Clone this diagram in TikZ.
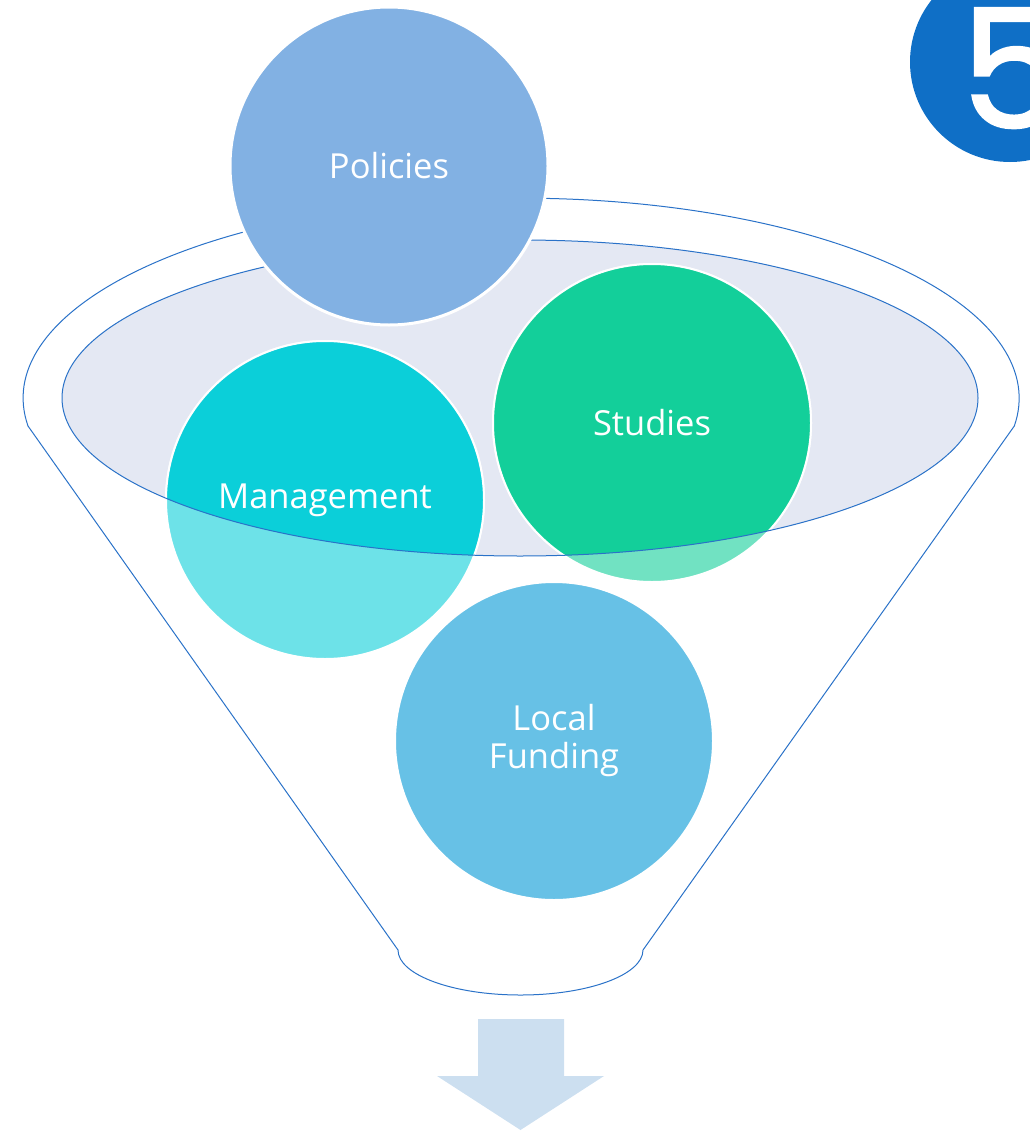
\documentclass[tikz,border=0pt]{standalone}
\usepackage{fontspec}
\setmainfont{Open Sans}
\newfontfamily\badgefont[FakeBold=1.2]{Poppins}
\definecolor{funline}{HTML}{2A72C8}
\definecolor{lavender}{HTML}{E4E8F3}
\definecolor{polc}{HTML}{82B1E3}
\definecolor{mgmt}{HTML}{0BCFD9}
\definecolor{stud}{HTML}{13CF9A}
\definecolor{lfund}{HTML}{67C1E6}
\definecolor{badge}{HTML}{0F6FC6}
\definecolor{arrowc}{HTML}{CCDFF0}
\begin{document}
\begin{tikzpicture}[x=1pt,y=-1pt,
  outl/.style={draw=funline,line width=1pt},
  ball/.style={circle,minimum size=318pt,inner sep=0pt,draw=white,line width=2pt},
  lbl/.style={text=white,font=\fontsize{34.5}{38}\selectfont,align=center}]
\useasboundingbox (0,0) rectangle (1030,1132);
\begin{scope}
\clip (0,0) rectangle (1030,1132);
% outer funnel
\draw[outl] (28,426) arc[start angle=188,end angle=-8,x radius=498pt,y radius=200pt]
  -- (643,950) arc[start angle=360,end angle=180,x radius=122.5pt,y radius=45pt] -- cycle;
% inner ellipse fill
\fill[lavender] (520,398) ellipse[x radius=458pt,y radius=158pt];
% local funding
\node[ball,fill=lfund] (lf) at (554,741) {};
% management & studies, light outside part
\node[ball,fill=mgmt,fill opacity=0.6] (mg) at (325,500) {};
\node[ball,fill=stud,fill opacity=0.6] (st) at (652,423) {};
\begin{scope}
\clip (520,398) ellipse[x radius=458pt,y radius=158pt];
\node[ball,fill=mgmt] at (mg) {};
\node[ball,fill=stud] at (st) {};
\end{scope}
% inner ellipse outline
\draw[outl] (520,398) ellipse[x radius=458pt,y radius=158pt];
% policies
\node[ball,fill=polc,line width=3pt] (po) at (389,166) {};
% labels
\node[lbl] at (po) {Policies};
\node[lbl] at (mg) {Management};
\node[lbl] at (st) {Studies};
\node[lbl] at (lf) {Local\\Funding};
% badge
\node[circle,fill=badge,minimum size=200pt,inner sep=0pt] (bd) at (1010,62) {};
\node[text=white,font=\badgefont\fontsize{166}{166}\selectfont,inner sep=0pt,anchor=base west] (five) at (960,128) {5};
% arrow
\fill[arrowc] (478,1019) -- (564,1019) -- (564,1076) -- (604,1076) -- (520.5,1130) -- (437,1076) -- (478,1076) -- cycle;
\end{scope}
\end{tikzpicture}
\end{document}
